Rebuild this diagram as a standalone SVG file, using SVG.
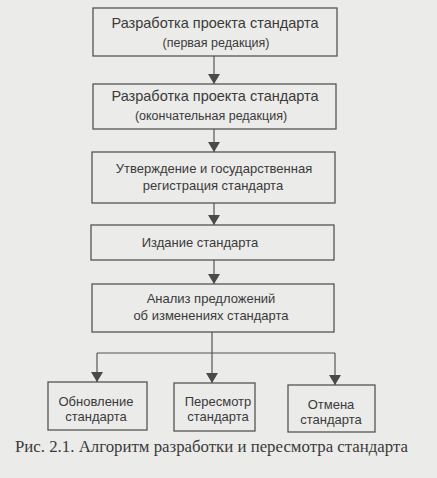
<svg xmlns="http://www.w3.org/2000/svg" width="437" height="478" viewBox="0 0 437 478">
<defs>
<marker id="ah" viewBox="0 0 10 12" refX="10" refY="6" markerWidth="10" markerHeight="12" markerUnits="userSpaceOnUse" orient="auto">
<path d="M0,0 L10,6 L0,12 Z" fill="#4a4a4a"/>
</marker>
</defs>
<style>
.bx{fill:none;stroke:#555;stroke-width:1.3}
.t{font-family:"Liberation Sans",Arial,sans-serif;fill:#3a3a3a;text-anchor:middle}
.l{font-size:14.5px}
.s{font-size:12.5px}
.m{font-size:13px}
.c{stroke:#555;stroke-width:1.2;fill:none}
.cap{font-family:"Liberation Serif","Times New Roman",serif;font-size:16.5px;fill:#3a3a3a}
</style>
<rect x="0" y="0" width="437" height="478" fill="#ebebe9"/>
<g id="n1">
<rect class="bx" x="93" y="8" width="244" height="48"/>
<text class="t l" x="215" y="28">Разработка проекта стандарта</text>
<text class="t s" x="216" y="47">(первая редакция)</text>
</g>
<g id="n2">
<rect class="bx" x="93" y="84" width="243" height="45"/>
<text class="t l" x="215" y="101">Разработка проекта стандарта</text>
<text class="t s" x="211" y="120">(окончательная редакция)</text>
</g>
<g id="n3">
<rect class="bx" x="92" y="152" width="243" height="51"/>
<text class="t m" x="214" y="173">Утверждение и государственная</text>
<text class="t m" x="213" y="190">регистрация стандарта</text>
</g>
<g id="n4">
<rect class="bx" x="91" y="225" width="243" height="35"/>
<text class="t m" x="200" y="247">Издание стандарта</text>
</g>
<g id="n5">
<rect class="bx" x="92" y="284" width="242" height="48"/>
<text class="t m" x="211" y="303">Анализ предложений</text>
<text class="t m" x="211" y="320">об изменениях стандарта</text>
</g>
<g id="n6">
<rect class="bx" x="48" y="382" width="99" height="48"/>
<text class="t m" x="96" y="406">Обновление</text>
<text class="t m" x="96" y="421">стандарта</text>
</g>
<g id="n7">
<rect class="bx" x="174" y="383" width="81" height="48"/>
<text class="t m" x="218" y="406">Пересмотр</text>
<text class="t m" x="218" y="421">стандарта</text>
</g>
<g id="n8">
<rect class="bx" x="288" y="385" width="87" height="47"/>
<text class="t m" x="331" y="409">Отмена</text>
<text class="t m" x="331" y="424">стандарта</text>
</g>
<g id="connectors">
<line class="c" x1="214" y1="56" x2="214" y2="84" marker-end="url(#ah)"/>
<line class="c" x1="214" y1="129" x2="214" y2="152" marker-end="url(#ah)"/>
<line class="c" x1="214" y1="203" x2="214" y2="225" marker-end="url(#ah)"/>
<line class="c" x1="214" y1="260" x2="214" y2="284" marker-end="url(#ah)"/>
<line class="c" x1="212" y1="332" x2="212" y2="353"/>
<line class="c" x1="97" y1="353" x2="335" y2="353"/>
<line class="c" x1="97" y1="353" x2="97" y2="382" marker-end="url(#ah)"/>
<line class="c" x1="212" y1="353" x2="212" y2="383" marker-end="url(#ah)"/>
<line class="c" x1="335" y1="353" x2="335" y2="385" marker-end="url(#ah)"/>
</g>
<text class="cap" x="15" y="452" textLength="393" lengthAdjust="spacingAndGlyphs">Рис. 2.1. Алгоритм разработки и пересмотра стандарта</text>
</svg>
